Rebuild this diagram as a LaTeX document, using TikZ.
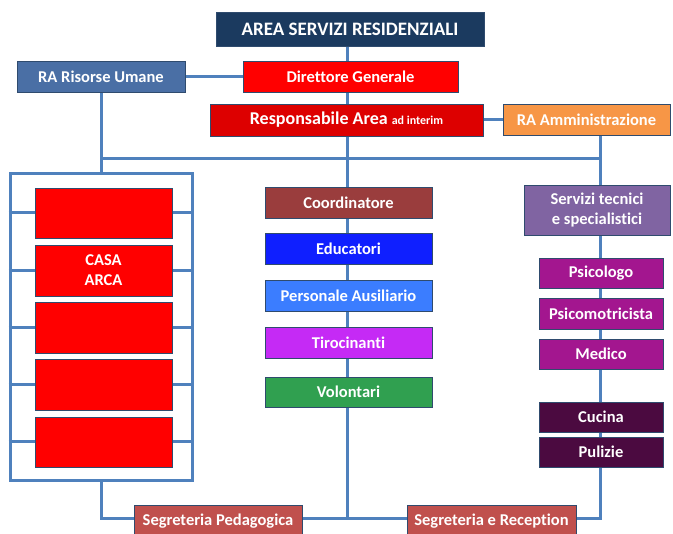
\documentclass[tikz,border=0pt]{standalone}
\usepackage{fontspec}
\setmainfont[Ligatures=NoCommon]{Carlito}
\pgfdeclarelayer{background}
\pgfsetlayers{background,main}
\definecolor{linec}{HTML}{4F81BD}
\definecolor{edgec}{HTML}{2F4B6E}
\definecolor{navy}{HTML}{1B3A5F}
\definecolor{steel}{HTML}{4A6FA5}
\definecolor{redA}{HTML}{FF0000}
\definecolor{redB}{HTML}{DD0000}
\definecolor{orangeA}{HTML}{F79646}
\definecolor{brownA}{HTML}{9A3D3D}
\definecolor{blueA}{HTML}{0F1FFF}
\definecolor{blueB}{HTML}{3B7DFF}
\definecolor{violA}{HTML}{C52AF5}
\definecolor{greenA}{HTML}{30A050}
\definecolor{purpA}{HTML}{8064A2}
\definecolor{magA}{HTML}{A3168F}
\definecolor{darkA}{HTML}{4B0A40}
\definecolor{segc}{HTML}{C0504D}
\tikzset{
  box/.style={draw=edgec, line width=0.9pt, text=white, font=\fontsize{16.5}{20}\selectfont\bfseries,
    inner sep=0pt, align=center},
  conn/.style={draw=linec, line width=3pt},
}
\newcommand{\bx}[7]{% name, x1, x2, y1, y2, fill, text
  \node[box, fill=#6, minimum width={#3-#2}, minimum height={#5-#4}] (#1) at ({(#2+#3)/2},{(#4+#5)/2}) {#7};}
\begin{document}
\begin{tikzpicture}[x=1pt,y=-1pt]
\useasboundingbox (0,0) rectangle (673,534);
\bx{area}{216}{484}{12}{46}{navy}{\fontsize{19}{22}\selectfont AREA SERVIZI RESIDENZIALI}
\bx{rau}{17}{185}{61}{92}{steel}{RA Risorse Umane}
\bx{dg}{243}{458}{61}{92}{redA}{Direttore Generale}
\bx{resp}{210}{483}{104}{136}{redB}{\fontsize{18}{20}\selectfont Responsabile Area \fontsize{12}{14}\selectfont ad interim}
\bx{ramm}{503}{670}{104}{135}{orangeA}{RA Amministrazione}
\node[draw=linec, line width=3pt, minimum width=182pt, minimum height=307pt, inner sep=0pt] (frame) at (101,327.5) {};
\bx{c1}{35}{172}{188}{238}{redA}{}
\bx{c2}{35}{172}{245}{296}{redA}{CASA\\ARCA}
\bx{c3}{35}{172}{302}{353}{redA}{}
\bx{c4}{35}{172}{359}{410}{redA}{}
\bx{c5}{35}{172}{417}{467}{redA}{}
\bx{coord}{265}{432}{187}{218}{brownA}{Coordinatore}
\bx{edu}{265}{432}{233}{264}{blueA}{Educatori}
\bx{pers}{265}{432}{280}{311}{blueB}{Personale Ausiliario}
\bx{tiro}{265}{432}{327}{358}{violA}{Tirocinanti}
\bx{vol}{265}{432}{377}{407}{greenA}{Volontari}
\bx{serv}{524}{670}{185}{235}{purpA}{Servizi tecnici\\e specialistici}
\bx{psi}{539}{663}{258}{288}{magA}{Psicologo}
\bx{psim}{539}{663}{298}{329}{magA}{Psicomotricista}
\bx{med}{539}{663}{339}{369}{magA}{Medico}
\bx{cuc}{539}{663}{402}{432}{darkA}{Cucina}
\bx{pul}{539}{663}{437}{467}{darkA}{Pulizie}
\bx{segp}{134}{302}{505}{537}{segc}{Segreteria Pedagogica}
\bx{segr}{407}{576}{505}{537}{segc}{Segreteria e Reception}
\coordinate (jl) at (101,159);
\coordinate (jr) at (600,159);
\coordinate (jm) at (347,159);
\coordinate (bm) at (347,519);
\coordinate (bl) at (101,519);
\coordinate (br) at (600,519);
\begin{pgfonlayer}{background}
\draw[conn] (area.south -| jm) -- (dg.north -| jm);
\draw[conn] (dg.south -| jm) -- (resp.north -| jm);
\draw[conn] (resp.south -| jm) -- (bm);
\draw[conn] (rau.east) -- (dg.west |- rau.east);
\draw[conn] (resp.east) -- (ramm.west |- resp.east);
\draw[conn] (rau.south) -- (frame.north);
\draw[conn] (jl) -- (jr);
\draw[conn] (ramm.south -| jr) -- (br) -- (segr.east |- br);
\draw[conn] (frame.south) -- (bl) -- (segp.west |- bl);
\draw[conn] (segp.east |- bm) -- (segr.west |- bm);
\foreach \c in {c1,c2,c3,c4,c5}{
  \draw[conn] (\c.west -| frame.west) -- (\c.west);
  \draw[conn] (\c.east) -- (\c.east -| frame.east);
}
\end{pgfonlayer}
\end{tikzpicture}
\end{document}
